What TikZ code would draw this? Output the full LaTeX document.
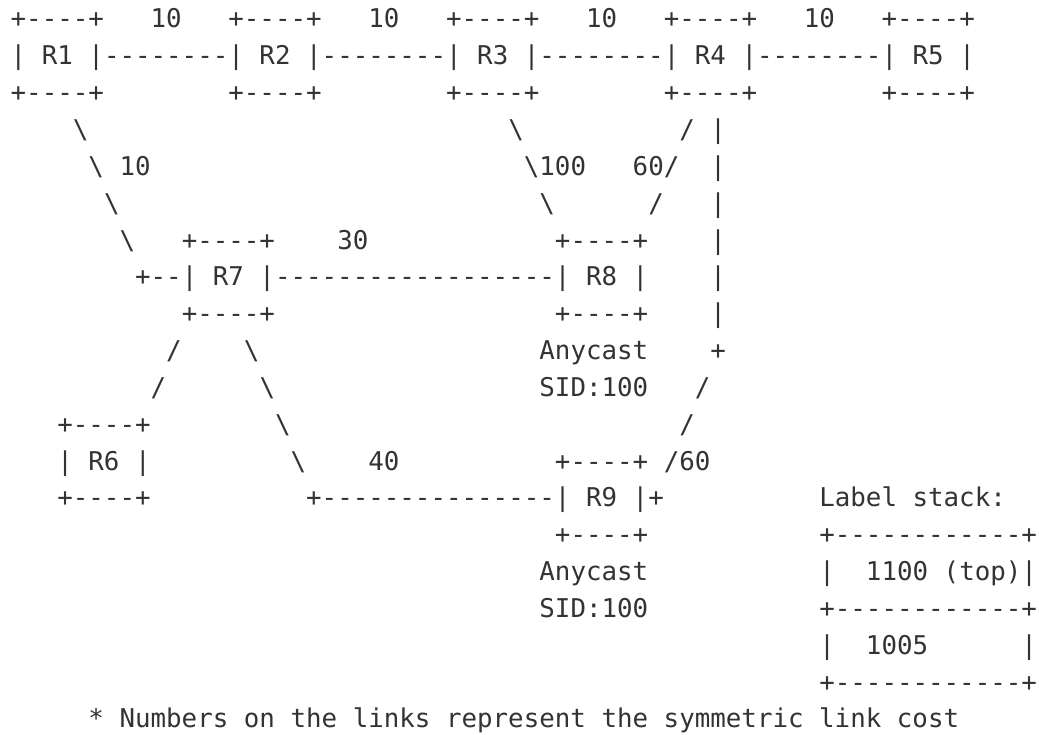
\documentclass[tikz,border=0pt]{standalone}
\usepackage{fontspec}
\setmonofont[WordSpace={1,0,0}]{DejaVu Sans Mono}
\usepackage{tikz}
\definecolor{cInk}{RGB}{51,51,51}
\tikzset{
	asc/.style={anchor=base west, inner sep=0pt, outer sep=0pt, text=cInk, font=\ttfamily\fontsize{19.37pt}{27.6pt}\selectfont},
	note/.style={asc},
}

\begin{document}
\begin{tikzpicture}[x=11.6625pt, y=-27.63pt]
	\useasboundingbox (-0.688,-0.760) rectangle (66.128,19.164);
	% top row of routers
	\node[asc] (R1t) at (0,0) {+----+};
	\node[asc] (c12) at (9,0) {10};
	\node[asc] (R2t) at (14,0) {+----+};
	\node[asc] (c23) at (23,0) {10};
	\node[asc] (R3t) at (28,0) {+----+};
	\node[asc] (c34) at (37,0) {10};
	\node[asc] (R4t) at (42,0) {+----+};
	\node[asc] (c45) at (51,0) {10};
	\node[asc] (R5t) at (56,0) {+----+};
	\node[asc] (R1) at (0,1) {| R1 |};
	\node[asc] (l12) at (6,1) {--------};
	\node[asc] (R2) at (14,1) {| R2 |};
	\node[asc] (l23) at (20,1) {--------};
	\node[asc] (R3) at (28,1) {| R3 |};
	\node[asc] (l34) at (34,1) {--------};
	\node[asc] (R4) at (42,1) {| R4 |};
	\node[asc] (l45) at (48,1) {--------};
	\node[asc] (R5) at (56,1) {| R5 |};
	\node[asc] (R1b) at (0,2) {+----+};
	\node[asc] (R2b) at (14,2) {+----+};
	\node[asc] (R3b) at (28,2) {+----+};
	\node[asc] (R4b) at (42,2) {+----+};
	\node[asc] (R5b) at (56,2) {+----+};
	% R1 -- R7
	\node[asc] (l17a) at (4,3) {\textbackslash};
	\node[asc] (l17b) at (5,4) {\textbackslash};
	\node[asc] (c17) at (7,4) {10};
	\node[asc] (l17c) at (6,5) {\textbackslash};
	\node[asc] (l17d) at (7,6) {\textbackslash};
	\node[asc] (l17e) at (8,7) {+--};
	% R3 -- R8 and R4 -- R8
	\node[asc] (l38a) at (32,3) {\textbackslash};
	\node[asc] (l38b) at (33,4) {\textbackslash100};
	\node[asc] (l38c) at (34,5) {\textbackslash};
	\node[asc] (l48a) at (43,3) {/};
	\node[asc] (l48b) at (40,4) {60/};
	\node[asc] (l48c) at (41,5) {/};
	% R4 -- R9
	\foreach \r in {3,...,8}
		\node[asc] (l49\r) at (45,\r) {|};
	\node[asc] (l49k) at (45,9) {+};
	\node[asc] (l49p) at (44,10) {/};
	\node[asc] (l49q) at (43,11) {/};
	\node[asc] (l49s) at (42,12) {/60};
	\node[asc] (l49t) at (41,13) {+};
	% R7 -- R8
	\node[asc] (R7t) at (11,6) {+----+};
	\node[asc] (c78) at (21,6) {30};
	\node[asc] (R8t) at (35,6) {+----+};
	\node[asc] (R7) at (11,7) {| R7 |};
	\node[asc] (l78) at (17,7) {------------------};
	\node[asc] (R8) at (35,7) {| R8 |};
	\node[asc] (R7b) at (11,8) {+----+};
	\node[asc] (R8b) at (35,8) {+----+};
	\node[asc] (a8) at (34,9) {Anycast};
	\node[asc] (s8) at (34,10) {SID:100};
	% R7 -- R6 and R7 -- R9
	\node[asc] (l76a) at (10,9) {/};
	\node[asc] (l76b) at (9,10) {/};
	\node[asc] (l79a) at (15,9) {\textbackslash};
	\node[asc] (l79b) at (16,10) {\textbackslash};
	\node[asc] (l79c) at (17,11) {\textbackslash};
	\node[asc] (l79d) at (18,12) {\textbackslash};
	\node[asc] (c79) at (23,12) {40};
	\node[asc] (l79e) at (19,13) {+---------------};
	\node[asc] (R6t) at (3,11) {+----+};
	\node[asc] (R6) at (3,12) {| R6 |};
	\node[asc] (R6b) at (3,13) {+----+};
	\node[asc] (R9t) at (35,12) {+----+};
	\node[asc] (R9) at (35,13) {| R9 |};
	\node[asc] (R9b) at (35,14) {+----+};
	\node[asc] (a9) at (34,15) {Anycast};
	\node[asc] (s9) at (34,16) {SID:100};
	% label stack
	\node[asc] (ls) at (52,13) {Label stack:};
	\node[asc] (ls0) at (52,14) {+------------+};
	\node[asc] (ls1l) at (52,15) {|};
	\node[asc] (ls1) at (55,15) {1100 (top)|};
	\node[asc] (ls2) at (52,16) {+------------+};
	\node[asc] (ls3l) at (52,17) {|};
	\node[asc] (ls3) at (55,17) {1005};
	\node[asc] (ls3r) at (65,17) {|};
	\node[asc] (ls4) at (52,18) {+------------+};
	\node[note] (foot) at (5,19) {* Numbers on the links represent the symmetric link cost};
\end{tikzpicture}
\end{document}
